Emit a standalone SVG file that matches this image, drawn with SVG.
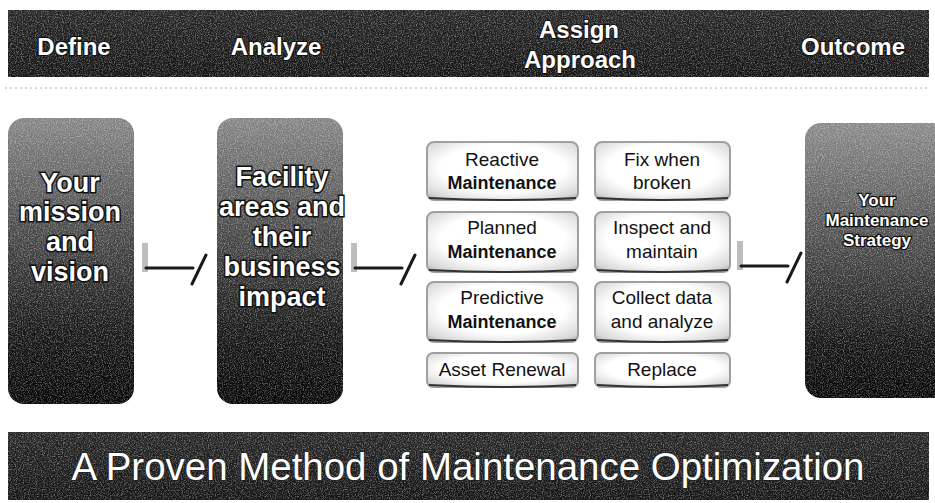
<svg xmlns="http://www.w3.org/2000/svg" width="935" height="503" viewBox="0 0 935 503">
<defs>
<linearGradient id="bigGrad" x1="0" y1="0" x2="0" y2="1">
<stop offset="0" stop-color="#858585"/>
<stop offset="0.35" stop-color="#505050"/>
<stop offset="0.75" stop-color="#181818"/>
<stop offset="1" stop-color="#050505"/>
</linearGradient>
<linearGradient id="outGrad" x1="0" y1="0" x2="0" y2="1">
<stop offset="0" stop-color="#8a8a8a"/>
<stop offset="0.45" stop-color="#4a4a4a"/>
<stop offset="0.8" stop-color="#151515"/>
<stop offset="1" stop-color="#050505"/>
</linearGradient>
<linearGradient id="bandGrad" x1="0" y1="0" x2="0" y2="1">
<stop offset="0" stop-color="#262626"/>
<stop offset="1" stop-color="#141414"/>
</linearGradient>
<radialGradient id="chipGrad" cx="0.5" cy="0.45" r="0.75">
<stop offset="0.55" stop-color="#ffffff"/>
<stop offset="0.85" stop-color="#d8d8d8"/>
<stop offset="1" stop-color="#9a9a9a"/>
</radialGradient>
<filter id="speck" x="0" y="0" width="100%" height="100%">
<feTurbulence type="fractalNoise" baseFrequency="0.85" numOctaves="2" seed="4" result="n"/>
<feColorMatrix in="n" type="matrix" values="0 0 0 0 1  0 0 0 0 1  0 0 0 0 1  3 0 0 0 -1.3" result="w"/>
<feComposite in="w" in2="SourceAlpha" operator="in"/>
</filter>
</defs>
<style>
.band{fill:url(#bandGrad)}
.speck{fill:#fff;filter:url(#speck)}
.hdr{font-family:"Liberation Sans",Arial,sans-serif;font-weight:bold;font-size:24px;fill:#fff;stroke:#111;stroke-width:2;paint-order:stroke;text-anchor:middle}
.big{fill:url(#bigGrad)}
.bigtxt{font-family:"Liberation Sans",Arial,sans-serif;font-weight:bold;font-size:27px;fill:#fff;stroke:#111;stroke-width:3;paint-order:stroke;text-anchor:middle}
.outtxt{font-family:"Liberation Sans",Arial,sans-serif;font-weight:bold;font-size:17px;fill:#fff;stroke:#111;stroke-width:2.5;paint-order:stroke;text-anchor:middle}
.chip{fill:url(#chipGrad);stroke:#a0a0a0;stroke-width:2}
.chipsh{fill:none;stroke:#333;stroke-width:2}
.ct{font-family:"Liberation Sans",Arial,sans-serif;font-size:19px;fill:#111;text-anchor:middle}
.cb{font-family:"Liberation Sans",Arial,sans-serif;font-size:18px;font-weight:bold;fill:#111;text-anchor:middle}
.ln{stroke:#1a1a1a;stroke-width:3;fill:none;stroke-linecap:round}
.bar{fill:#bdbdbd}
.foot{font-family:"Liberation Sans",Arial,sans-serif;font-size:39px;fill:#fff;stroke:#222;stroke-width:1.5;paint-order:stroke;text-anchor:middle}
</style>
<rect width="935" height="503" fill="#fff"/>

<g id="header">
<rect class="band" x="8" y="10" width="921" height="67"/>
<rect class="speck" x="8" y="10" width="921" height="67" opacity="0.35"/>
<text class="hdr" x="74" y="55">Define</text>
<text class="hdr" x="276" y="55">Analyze</text>
<text class="hdr" x="579" y="38">Assign</text>
<text class="hdr" x="580" y="68">Approach</text>
<text class="hdr" x="853" y="55">Outcome</text>
</g>
<line x1="5" y1="88" x2="930" y2="88" stroke="#aaa" stroke-width="1" stroke-dasharray="2 3"/>

<g id="node-define">
<rect class="big" x="8" y="118" width="126" height="286" rx="16"/>
<rect class="speck" x="8" y="118" width="126" height="286" rx="16" opacity="0.35"/>
<text class="bigtxt" x="70" y="192">Your</text>
<text class="bigtxt" x="70" y="221">mission</text>
<text class="bigtxt" x="70" y="251">and</text>
<text class="bigtxt" x="70" y="281">vision</text>
</g>

<g id="node-analyze">
<rect class="big" x="217" y="118" width="126" height="286" rx="16"/>
<rect class="speck" x="217" y="118" width="126" height="286" rx="16" opacity="0.35"/>
<text class="bigtxt" x="282" y="186">Facility</text>
<text class="bigtxt" x="282" y="216">areas and</text>
<text class="bigtxt" x="282" y="246">their</text>
<text class="bigtxt" x="282" y="276">business</text>
<text class="bigtxt" x="282" y="306">impact</text>
</g>

<g id="node-reactive">
<rect class="chip" x="427" y="142" width="151" height="58" rx="7"/>
<path class="chipsh" d="M429 198 Q502 202 576 198"/>
<text class="ct" x="502" y="166">Reactive</text>
<text class="cb" x="502" y="189">Maintenance</text>
</g>
<g id="node-fix">
<rect class="chip" x="595" y="142" width="135" height="58" rx="7"/>
<path class="chipsh" d="M597 198 Q662 202 728 198"/>
<text class="ct" x="662" y="166">Fix when</text>
<text class="ct" x="662" y="189">broken</text>
</g>
<g id="node-planned">
<rect class="chip" x="427" y="212" width="151" height="60" rx="7"/>
<path class="chipsh" d="M429 270 Q502 274 576 270"/>
<text class="ct" x="502" y="234">Planned</text>
<text class="cb" x="502" y="258">Maintenance</text>
</g>
<g id="node-inspect">
<rect class="chip" x="595" y="212" width="135" height="60" rx="7"/>
<path class="chipsh" d="M597 270 Q662 274 728 270"/>
<text class="ct" x="662" y="234">Inspect and</text>
<text class="ct" x="662" y="258">maintain</text>
</g>
<g id="node-predictive">
<rect class="chip" x="427" y="282" width="151" height="60" rx="7"/>
<path class="chipsh" d="M429 340 Q502 344 576 340"/>
<text class="ct" x="502" y="304">Predictive</text>
<text class="cb" x="502" y="328">Maintenance</text>
</g>
<g id="node-collect">
<rect class="chip" x="595" y="282" width="135" height="60" rx="7"/>
<path class="chipsh" d="M597 340 Q662 344 728 340"/>
<text class="ct" x="662" y="304">Collect data</text>
<text class="ct" x="662" y="328">and analyze</text>
</g>
<g id="node-renewal">
<rect class="chip" x="427" y="353" width="151" height="34" rx="6"/>
<path class="chipsh" d="M429 385 Q502 389 576 385"/>
<text class="ct" x="502" y="376">Asset Renewal</text>
</g>
<g id="node-replace">
<rect class="chip" x="595" y="353" width="135" height="34" rx="6"/>
<path class="chipsh" d="M597 385 Q662 389 728 385"/>
<text class="ct" x="662" y="376">Replace</text>
</g>

<g id="node-outcome">
<rect x="805" y="123" width="150" height="275" rx="16" fill="url(#outGrad)"/>
<rect class="speck" x="805" y="123" width="150" height="275" rx="16" opacity="0.35"/>
<text class="outtxt" x="877" y="206">Your</text>
<text class="outtxt" x="877" y="226">Maintenance</text>
<text class="outtxt" x="877" y="246">Strategy</text>
</g>

<g id="connectors">
<g id="conn-1">
<rect class="bar" x="142" y="243" width="6" height="29"/>
<path class="ln" d="M146 268 L193 268"/>
<path class="ln" d="M192 284 L206 255"/>
</g>
<g id="conn-2" transform="translate(209,0)">
<rect class="bar" x="142" y="243" width="6" height="29"/>
<path class="ln" d="M146 268 L193 268"/>
<path class="ln" d="M192 284 L206 255"/>
</g>
<g id="conn-3" transform="translate(595,-2)">
<rect class="bar" x="142" y="243" width="6" height="29"/>
<path class="ln" d="M146 268 L193 268"/>
<path class="ln" d="M192 284 L206 255"/>
</g>
</g>

<g id="footer">
<rect class="band" x="8" y="432" width="921" height="68"/>
<rect class="speck" x="8" y="432" width="921" height="68" opacity="0.35"/>
<text class="foot" x="468" y="480" textLength="793" lengthAdjust="spacingAndGlyphs">A Proven Method of Maintenance Optimization</text>
</g>
</svg>
